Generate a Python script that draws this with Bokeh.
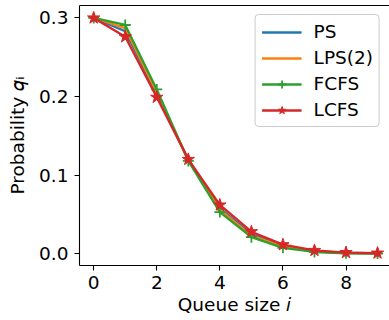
from bokeh.plotting import figure
from bokeh.models import Range1d, LinearAxis, FixedTicker, Legend
from bokeh.embed import file_html
from bokeh.resources import INLINE

# ---- data ----
queue_size = [0, 1, 2, 3, 4, 5, 6, 7, 8, 9]
ps = [0.300, 0.283, 0.203, 0.120, 0.058, 0.025, 0.0100, 0.0030, 0.0012, 0.0005]
lps2 = [0.300, 0.287, 0.205, 0.119, 0.056, 0.023, 0.0090, 0.0028, 0.0010, 0.0004]
fcfs = [0.300, 0.291, 0.209, 0.118, 0.053, 0.021, 0.0075, 0.0022, 0.0006, 0.0002]
lcfs = [0.300, 0.276, 0.199, 0.120, 0.062, 0.028, 0.0115, 0.0042, 0.0015, 0.0008]
x_ticks = [0, 2, 4, 6, 8]
y_ticks = [0.0, 0.1, 0.2, 0.3]
y_tick_labels = {0.0: "0.0", 0.1: "0.1", 0.2: "0.2", 0.3: "0.3"}
x_label = "Queue size \U0001D456"
y_label = "Probability \U0001D45E\u1D62"

# ---- layout ----
W, H = 389, 320
BL, BR, BT, BB = 79, 0, 5, 55
FONT = "DejaVu Sans"
FS = "18.5px"
XPX = 31.54   # px per x unit
x0, x1 = -0.45, -0.45 + (W - BL - BR) / XPX
y0, y1 = -0.015, 0.3158

p = figure(width=W, height=H, output_backend="svg", toolbar_location=None,
           x_range=Range1d(x0, x1), y_range=Range1d(y0, y1),
           min_border_left=BL, min_border_right=BR, min_border_top=BT,
           min_border_bottom=BB, background_fill_color="white",
           border_fill_color="white")
p.outline_line_color = None
p.xgrid.visible = False
p.ygrid.visible = False

for ax in (p.xaxis[0], p.yaxis[0]):
    ax.axis_line_color = "black"
    ax.axis_line_width = 1.1
    ax.major_tick_line_color = "black"
    ax.major_tick_line_width = 1.1
    ax.major_tick_out = 5
    ax.major_tick_in = 0
    ax.minor_tick_out = 0
    ax.minor_tick_in = 0
    ax.major_label_text_font = FONT
    ax.major_label_text_font_size = FS
    ax.major_label_text_color = "black"
    ax.axis_label_text_font = FONT
    ax.axis_label_text_font_size = FS
    ax.axis_label_text_font_style = "normal"
    ax.axis_label_text_color = "black"

p.xaxis[0].ticker = FixedTicker(ticks=x_ticks)
p.yaxis[0].ticker = FixedTicker(ticks=y_ticks)
p.yaxis[0].major_label_overrides = y_tick_labels
p.xaxis[0].major_label_standoff = 5
p.yaxis[0].major_label_standoff = 6
p.xaxis[0].axis_label = x_label
p.yaxis[0].axis_label = y_label
p.xaxis[0].axis_label_standoff = 2
p.yaxis[0].axis_label_standoff = 8

top = LinearAxis(ticker=FixedTicker(ticks=[]), major_tick_out=0, major_tick_in=0,
                 minor_tick_out=0, minor_tick_in=0, major_label_text_font_size="0px",
                 axis_line_color="black", axis_line_width=1.1, major_label_standoff=0)
p.add_layout(top, "above")

colors = ["#1f77b4", "#ff7f0e", "#2ca02c", "#d62728"]
LW = 2.3
r_ps = p.line(queue_size, ps, line_color=colors[0], line_width=LW)
r_lps = p.line(queue_size, lps2, line_color=colors[1], line_width=LW)
r_fc = p.line(queue_size, fcfs, line_color=colors[2], line_width=LW)
m_fc = p.scatter(queue_size, fcfs, marker="cross", size=11, line_color=colors[2],
                 line_width=1.8)
r_lc = p.line(queue_size, lcfs, line_color=colors[3], line_width=LW)
m_lc = p.scatter(queue_size, lcfs, marker="star", size=13, line_color=colors[3],
                 fill_color=colors[3], line_width=1)

legend = Legend(items=[("PS", [r_ps]), ("LPS(2)", [r_lps]),
                       ("FCFS", [r_fc, m_fc]), ("LCFS", [r_lc, m_lc])],
                location="top_right", margin=9, padding=6, spacing=5,
                glyph_width=40, glyph_height=20, label_height=20,
                label_standoff=12, label_text_font=FONT,
                label_text_font_size=FS, label_text_color="black",
                border_line_color="#cccccc", border_line_width=1,
                border_line_alpha=1.0, background_fill_alpha=0.8)
if "border_radius" in Legend.properties():
    legend.border_radius = 4
p.add_layout(legend)

open("out.html", "w").write(file_html(p, INLINE))
